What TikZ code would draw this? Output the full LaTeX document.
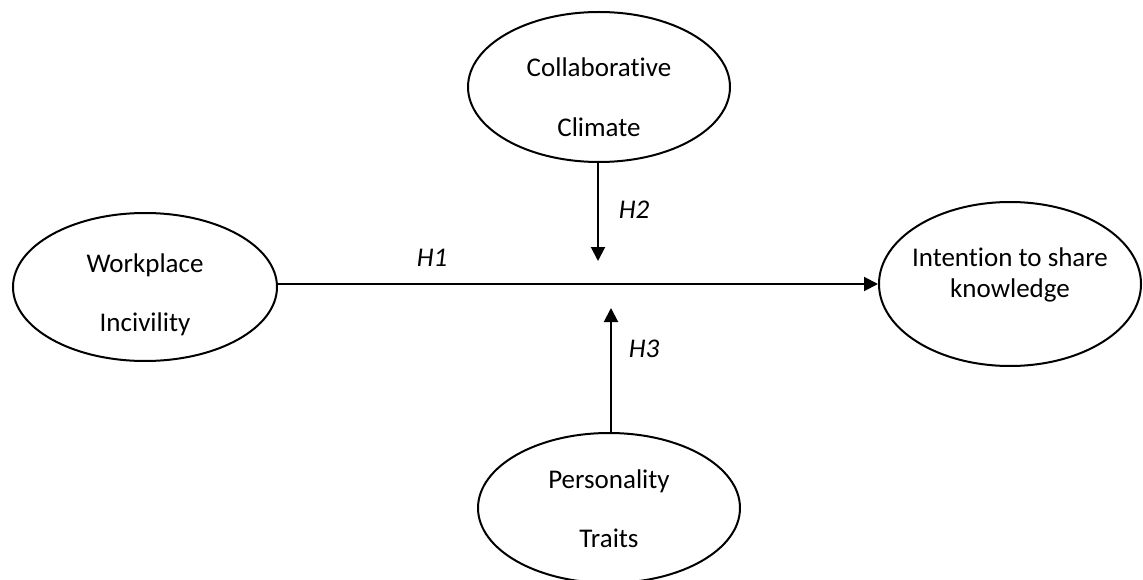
\documentclass[tikz,border=0pt]{standalone}
\usepackage{fontspec}
\setmainfont[Ligatures=NoCommon]{Carlito}
\usetikzlibrary{arrows.meta,shapes.geometric}
\begin{document}
\begin{tikzpicture}[x=1pt,y=-1pt,
  construct/.style={draw,line width=2pt,ellipse,inner sep=0pt},
  lbl/.style={font=\fontsize{27}{31}\selectfont,inner sep=0pt,anchor=base},
  hyp/.style={font=\fontsize{27}{31}\selectfont\itshape,inner sep=0pt},
  conn/.style={line width=2pt,-{Triangle[width=14pt,length=14pt]}}]
\useasboundingbox (0,0) rectangle (1143,580);
% ellipses
\node[construct,minimum width=264pt,minimum height=148pt] (wi) at (145,287) {};
\node[construct,minimum width=262pt,minimum height=164pt] (is) at (1010,284) {};
\node[construct,minimum width=262pt,minimum height=150pt] (cc) at (599,87) {};
\node[construct,minimum width=262pt,minimum height=150pt] (pt) at (609,508) {};
% texts (baselines)
\node[lbl] (wi1) at (145,272) {Workplace};
\node[lbl] (wi2) at (145,331) {Incivility};
\node[lbl] (is1) at (1010,266) {Intention to share};
\node[lbl] (is2) at (1010,297) {knowledge};
\node[lbl] (cc1) at (599,77) {Collaborative};
\node[lbl] (cc2) at (599,137) {Climate};
\node[lbl] (pt1) at (609,488) {Personality};
\node[lbl] (pt2) at (609,547) {Traits};
% connectors
\coordinate (dtip) at (598,261);
\coordinate (utip) at (611,308);
\draw[conn] (wi.east |- 0,284) -- (is.west |- 0,284);
\draw[conn] (cc.south -| dtip) -- (dtip);
\draw[conn] (pt.north -| utip) -- (utip);
% hypothesis labels
\node[hyp] (h1) at (432,258) {H1};
\node[hyp] (h2) at (634,210) {H2};
\node[hyp] (h3) at (644,349) {H3};
\end{tikzpicture}
\end{document}
